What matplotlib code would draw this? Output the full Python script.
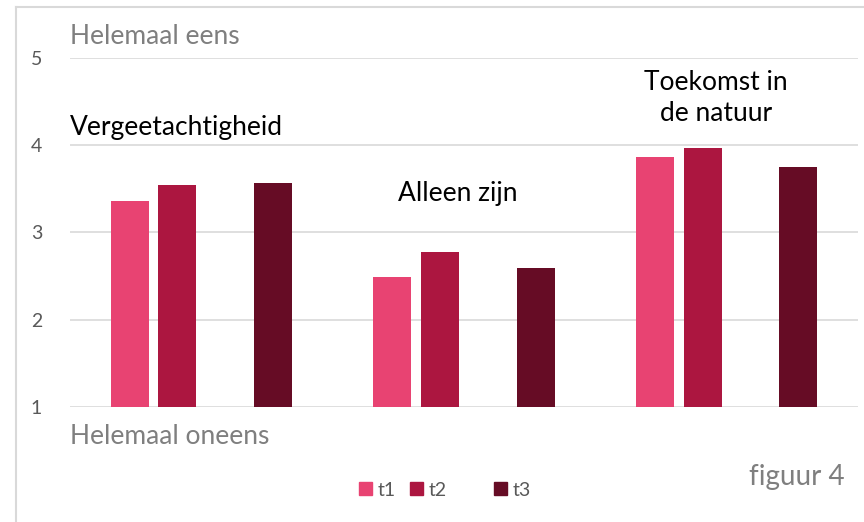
import numpy as np
import matplotlib.pyplot as plt
from matplotlib.patches import Patch
from matplotlib.lines import Line2D

# Gegevens
categorieen = ["Vergeetachtigheid", "Alleen zijn", "Toekomst in\nde natuur"]
reeksen = ["t1", "t2", "t3"]
t1 = [3.36, 2.49, 3.87]
t2 = [3.55, 2.78, 3.97]
t3 = [3.57, 2.59, 3.75]
kleuren = ["#E84372", "#AC1640", "#660C25"]
yticks = [1, 2, 3, 4, 5]

plt.rcParams['font.family'] = ['Lato', 'DejaVu Sans']

W, H = 864, 522
fig = plt.figure(figsize=(W / 100, H / 100), dpi=100)
ax = fig.add_axes([0.081, 0.2203, 0.912, 0.6686])

x = np.arange(len(categorieen))
slot = 0.1816
breedte = 0.1446
# t1, t2, lege plek, t3
offsets = [-1.5 * slot, -0.5 * slot, 1.5 * slot]
for waarden, off, kleur, naam in zip([t1, t2, t3], offsets, kleuren, reeksen):
    ax.bar(x + off, np.array(waarden) - 1, bottom=1, width=breedte,
           color=kleur, label=naam, zorder=3)

ax.set_xlim(-0.5, len(categorieen) - 0.5)
ax.set_ylim(1, 5)
ax.set_yticks(yticks)
ax.set_xticks([])
ax.grid(axis='y', color='#d9d9d9', linewidth=1.2, zorder=0)
ax.tick_params(axis='y', length=0, labelsize=14, labelcolor='#595959', pad=20)
for s in ax.spines.values():
    s.set_visible(False)

# categorienamen boven de groepen (posities in pixels)
label_pos = [(70, 128, 'left'), (458, 193, 'center'), (716, 98, 'center')]
for naam, (px, py, ha) in zip(categorieen, label_pos):
    fig.text(px / W, 1 - py / H, naam, ha=ha, va='center', fontsize=19,
             color='black', linespacing=1.3)

fig.text(70 / W, 1 - 37 / H, "Helemaal eens", fontsize=19, color='#7f7f7f',
         va='center', ha='left')
fig.text(70 / W, 1 - 437 / H, "Helemaal oneens", fontsize=19, color='#7f7f7f',
         va='center', ha='left')
fig.text(845 / W, 1 - 477 / H, "figuur 4", fontsize=20, color='#7f7f7f',
         va='center', ha='right')

handles = [Patch(color=kleuren[0]), Patch(color=kleuren[1]),
           Patch(color='none'), Patch(color=kleuren[2])]
labels = ["t1", "t2", "", "t3"]
fig.legend(handles, labels, loc='center', bbox_to_anchor=(445 / W, 1 - 490 / H),
           ncol=4, frameon=False, fontsize=14, labelcolor='#595959',
           handlelength=0.65, handleheight=0.65, handletextpad=0.3,
           columnspacing=0.75)

# rand om de figuur
fig.add_artist(Line2D([16 / W, 16 / W], [0, 1 - 7 / H], color='#d9d9d9',
                      linewidth=1.5, transform=fig.transFigure))
fig.add_artist(Line2D([16 / W, 1], [1 - 7 / H, 1 - 7 / H], color='#d9d9d9',
                      linewidth=1.5, transform=fig.transFigure))

fig.savefig("out.png", dpi=100)
